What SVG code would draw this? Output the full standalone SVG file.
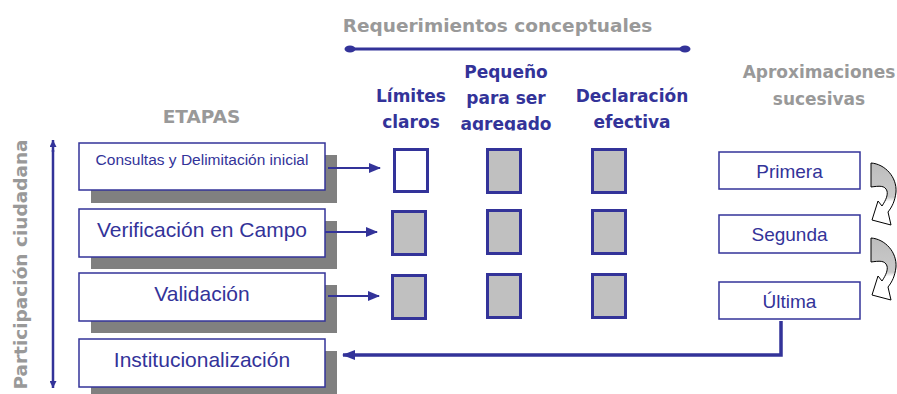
<svg xmlns="http://www.w3.org/2000/svg" width="897" height="394" viewBox="0 0 897 394">
<defs>
<style>
.gt{font-family:"DejaVu Sans",Verdana,sans-serif;font-weight:bold;font-size:18.5px;fill:#999999;text-anchor:middle}
.ht{font-family:"DejaVu Sans",Verdana,sans-serif;font-weight:bold;font-size:17px;fill:#333399;text-anchor:middle}
.bt{font-family:"Liberation Sans",Arial,sans-serif;font-size:21px;fill:#333399;text-anchor:middle}
.rt{font-family:"Liberation Sans",Arial,sans-serif;font-size:19px;fill:#333399;text-anchor:middle}
.box{fill:#ffffff;stroke:#333399;stroke-width:1.5}
.sh{fill:#808080}
.sq{fill:#c0c0c0;stroke:#333399;stroke-width:3}
.sqw{fill:#ffffff;stroke:#333399;stroke-width:3}
.ln{stroke:#333399;fill:none}
.ca{stroke:#000;stroke-width:1;fill:url(#cg)}
</style>
<linearGradient id="cg" x1="0" y1="0" x2="0" y2="1">
<stop offset="0" stop-color="#bdbdbd"/>
<stop offset="0.55" stop-color="#cacaca"/>
<stop offset="0.62" stop-color="#ffffff"/>
<stop offset="1" stop-color="#ffffff"/>
</linearGradient>
<marker id="ah" viewBox="0 0 10 10" refX="10" refY="5" markerWidth="7" markerHeight="7" orient="auto" markerUnits="userSpaceOnUse">
<path d="M0,0 L10,5 L0,10 Z" fill="#333399"/>
</marker>
<marker id="ahs" viewBox="0 0 12 10" refX="11" refY="5" markerWidth="12" markerHeight="10" orient="auto" markerUnits="userSpaceOnUse">
<path d="M0,0 L12,5 L0,10 Z" fill="#333399"/>
</marker>
<marker id="ahb" viewBox="0 0 13 10" refX="12" refY="5" markerWidth="13" markerHeight="10" orient="auto" markerUnits="userSpaceOnUse">
<path d="M0,0 L13,5 L0,10 Z" fill="#333399"/>
</marker>
<clipPath id="hc"><rect x="440" y="50" width="140" height="80.5"/></clipPath>
</defs>

<g id="titles">
<text class="gt" x="497.5" y="32">Requerimientos conceptuales</text>
<line class="ln" x1="350" y1="49" x2="685" y2="49" stroke-width="3"/>
<ellipse cx="350" cy="49" rx="5.5" ry="3.5" fill="#333399"/>
<ellipse cx="685" cy="49" rx="5.5" ry="3.5" fill="#333399"/>
<text class="gt" x="201.5" y="123">ETAPAS</text>
<text class="gt" transform="translate(27,264.5) rotate(-90)" x="0" y="0">Participación ciudadana</text>
<text class="gt" x="819" y="78" style="font-size:17px">Aproximaciones</text>
<text class="gt" x="819" y="105" style="font-size:17px">sucesivas</text>
</g>

<g id="headers">
<text class="ht" x="411" y="102">Límites</text>
<text class="ht" x="411" y="128">claros</text>
<g clip-path="url(#hc)">
<text class="ht" x="506" y="78">Pequeño</text>
<text class="ht" x="506" y="104">para ser</text>
<text class="ht" x="506" y="130">agregado</text>
</g>
<text class="ht" x="632" y="102">Declaración</text>
<text class="ht" x="632" y="128">efectiva</text>
</g>

<g id="stage-consultas">
<rect class="sh" x="91" y="155" width="246" height="48"/>
<rect class="box" x="79" y="143" width="246" height="47"/>
<text class="bt" x="202" y="165" style="font-size:15.5px">Consultas y Delimitación inicial</text>
</g>
<g id="stage-verificacion">
<rect class="sh" x="91" y="221" width="246" height="48"/>
<rect class="box" x="79" y="209" width="246" height="48"/>
<text class="bt" x="202" y="237">Verificación en Campo</text>
</g>
<g id="stage-validacion">
<rect class="sh" x="91" y="285" width="246" height="48"/>
<rect class="box" x="79" y="273" width="246" height="48"/>
<text class="bt" x="202" y="301">Validación</text>
</g>
<g id="stage-institucionalizacion">
<rect class="sh" x="91" y="351" width="246" height="48"/>
<rect class="box" x="79" y="339" width="246" height="48"/>
<text class="bt" x="202" y="367">Institucionalización</text>
</g>

<g id="squares">
<rect class="sqw" x="394.5" y="149.5" width="33" height="42"/>
<rect class="sq" x="392.5" y="211.5" width="33" height="43"/>
<rect class="sq" x="392.5" y="275.5" width="33" height="43"/>
<rect class="sq" x="487.5" y="149.5" width="33" height="43"/>
<rect class="sq" x="487.5" y="210.5" width="33" height="43"/>
<rect class="sq" x="487.5" y="274.5" width="33" height="43"/>
<rect class="sq" x="592.5" y="149.5" width="33" height="43"/>
<rect class="sq" x="592.5" y="210.5" width="33" height="43"/>
<rect class="sq" x="592.5" y="274.5" width="33" height="43"/>
</g>

<g id="approx-primera">
<rect class="box" x="719" y="152" width="141" height="37"/>
<text class="rt" x="789.5" y="178">Primera</text>
</g>
<g id="approx-segunda">
<rect class="box" x="719" y="215" width="141" height="38"/>
<text class="rt" x="789.5" y="241">Segunda</text>
</g>
<g id="approx-ultima">
<rect class="box" x="719" y="282" width="141" height="37"/>
<text class="rt" x="789.5" y="308">Última</text>
</g>

<g id="connectors">
<line class="ln" x1="53" y1="152" x2="53" y2="140" stroke-width="2.5" marker-end="url(#ah)"/>
<line class="ln" x1="53" y1="150" x2="53" y2="388" stroke-width="2.5" marker-end="url(#ah)"/>
<line class="ln" x1="328" y1="168" x2="380" y2="168" stroke-width="1.8" marker-end="url(#ahs)"/>
<line class="ln" x1="325" y1="232" x2="377" y2="232" stroke-width="1.8" marker-end="url(#ahs)"/>
<line class="ln" x1="328" y1="296" x2="379" y2="296" stroke-width="1.8" marker-end="url(#ahs)"/>
<polyline class="ln" points="781,321 781,355 343,355" stroke-width="3.5" marker-end="url(#ahb)"/>
<path class="ca" d="M871,163 C885,164 897,177 896,192 C895,201 892,207 888,212 L891,225 L872,220 L878,201 L882,206 C886,200 888,195 887,191 C885,185 879,186 871,187 Z"/>
<path class="ca" transform="translate(0,75)" d="M871,163 C885,164 897,177 896,192 C895,201 892,207 888,212 L891,225 L872,220 L878,201 L882,206 C886,200 888,195 887,191 C885,185 879,186 871,187 Z"/>
</g>
</svg>
